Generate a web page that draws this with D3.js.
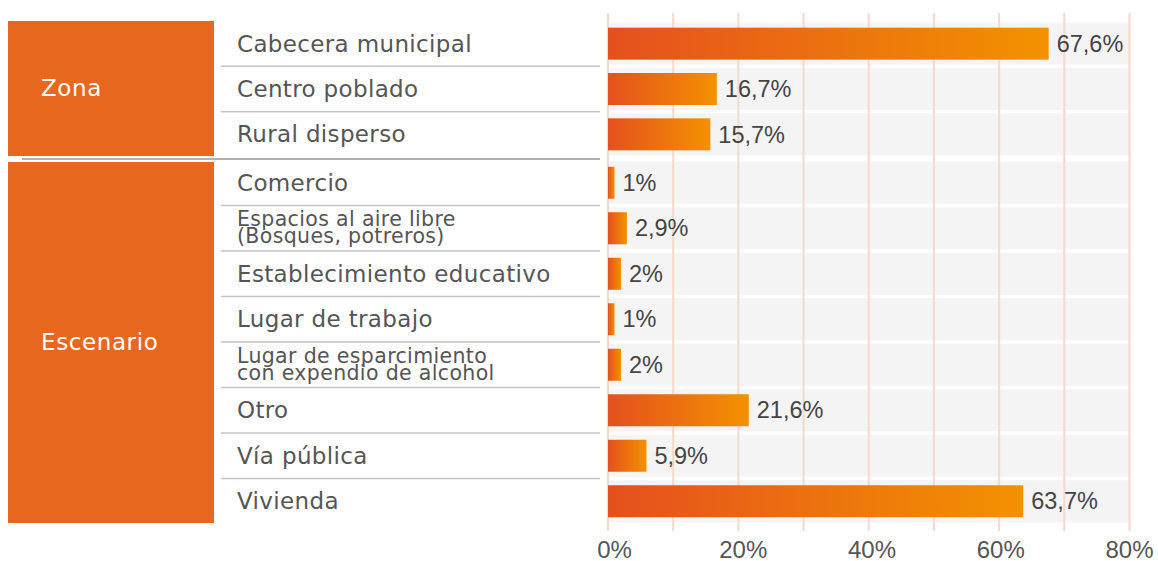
<!DOCTYPE html>
<html>
<head>
<meta charset="utf-8">
<script src="https://cdn.jsdelivr.net/npm/d3@7"></script>
<style>
  html, body { margin: 0; padding: 0; background: #fff; }
  svg { display: block; font-family: "Liberation Sans", Arial, sans-serif; }
  .cat { font-family: "DejaVu Sans", "Liberation Sans", sans-serif; }
</style>
</head>
<body>
<svg id="chart" width="1158" height="561"></svg>
<script>
// ---- data ----
const groupNames = ["Zona", "Escenario"];
const zonaCategories = ["Cabecera municipal", "Centro poblado", "Rural disperso"];
const zonaValues = [67.6, 16.7, 15.7];
const escenarioCategories = [
  "Comercio",
  "Espacios al aire libre\n(Bosques, potreros)",
  "Establecimiento educativo",
  "Lugar de trabajo",
  "Lugar de esparcimiento\ncon expendio de alcohol",
  "Otro",
  "Vía pública",
  "Vivienda"
];
const escenarioValues = [1, 2.9, 2, 1, 2, 21.6, 5.9, 63.7];
const tickValues = [0, 20, 40, 60, 80];
const gridValues = [0, 10, 20, 30, 40, 50, 60, 70, 80];

// ---- layout ----
const svg = d3.select("#chart");
const x = d3.scaleLinear().domain([0, 80]).range([608, 1129.5]);
const xLabel = d3.scaleLinear().domain([0, 80]).range([614, 1129]);
const groups = [
  { name: groupNames[0], cats: zonaCategories, vals: zonaValues, y: d3.scaleBand().domain(zonaCategories).range([21, 157]) },
  { name: groupNames[1], cats: escenarioCategories, vals: escenarioValues, y: d3.scaleBand().domain(escenarioCategories).range([160, 524]) }
];
const boxes = [[21, 156], [162, 523]];

const defs = svg.append("defs");
const grad = defs.append("linearGradient").attr("id", "barGrad")
  .attr("x1", "0%").attr("x2", "100%").attr("y1", "0%").attr("y2", "0%");
grad.append("stop").attr("offset", "0%").attr("stop-color", "#e5501e");
grad.append("stop").attr("offset", "100%").attr("stop-color", "#f39200");

const fmt = v => String(v).replace(".", ",") + "%";

// background bands
groups.forEach(g => {
  svg.append("g").selectAll("rect").data(g.cats).join("rect")
    .attr("x", x(0)).attr("width", x(80) - x(0))
    .attr("y", d => g.y(d) + g.y.bandwidth() / 2 - 21)
    .attr("height", 42)
    .attr("fill", "#f4f4f4");
});

// gridlines
svg.append("g").selectAll("line").data(gridValues).join("line")
  .attr("x1", d => x(d)).attr("x2", d => x(d))
  .attr("y1", 13).attr("y2", 531)
  .attr("stroke", "#f6d8cc").attr("stroke-width", 2);

// group boxes, labels, separators
groups.forEach((g, gi) => {
  const [top, bottom] = boxes[gi];
  svg.append("rect").attr("x", 8).attr("y", top).attr("width", 206).attr("height", bottom - top)
    .attr("fill", "#e8671e");
  svg.append("text").attr("class", "cat").attr("x", 41).attr("y", (top + bottom) / 2 - 1).attr("dy", "0.35em")
    .attr("fill", "#fff").attr("font-size", 23).attr("letter-spacing", "0.6px").text(g.name);

  // row separators
  svg.append("g").selectAll("line").data(g.cats.slice(1)).join("line")
    .attr("x1", 221).attr("x2", 600)
    .attr("y1", d => g.y(d)).attr("y2", d => g.y(d))
    .attr("stroke", "#c4c4c4").attr("stroke-width", 1.5);

  // category labels
  const lbl = svg.append("g").selectAll("text").data(g.cats).join("text")
    .attr("class", "cat")
    .attr("fill", "#555")
    .attr("x", 237)
    .attr("y", d => g.y(d) + g.y.bandwidth() / 2);
  lbl.each(function(d) {
    const lines = d.split("\n");
    const t = d3.select(this);
    if (lines.length === 1) {
      t.attr("font-size", 23).attr("letter-spacing", "0.35px").attr("dy", "0.35em").text(d);
    } else {
      t.attr("font-size", 20.5).attr("letter-spacing", "0.35px");
      lines.forEach((ln, i) => {
        t.append("tspan").attr("x", 237).attr("dy", i === 0 ? "-2px" : "17px").text(ln);
      });
    }
  });

  // bars
  svg.append("g").selectAll("rect").data(g.cats).join("rect")
    .attr("x", x(0))
    .attr("y", d => g.y(d) + g.y.bandwidth() / 2 - 16)
    .attr("height", 32)
    .attr("width", (d, i) => x(g.vals[i]) - x(0))
    .attr("fill", "url(#barGrad)");

  // value labels
  svg.append("g").selectAll("text").data(g.cats).join("text")
    .attr("x", (d, i) => x(g.vals[i]) + 8)
    .attr("y", d => g.y(d) + g.y.bandwidth() / 2)
    .attr("dy", "0.35em")
    .attr("font-size", 23.5).attr("fill", "#444")
    .text((d, i) => fmt(g.vals[i]));
});

// group separator
svg.append("line").attr("x1", 22).attr("x2", 600).attr("y1", 159).attr("y2", 159)
  .attr("stroke", "#b0b0b0").attr("stroke-width", 2);

// x axis
const axis = svg.append("g").attr("transform", "translate(0,539)")
  .call(d3.axisBottom(xLabel).tickValues(tickValues).tickSize(0).tickFormat(d => d + "%"));
axis.select(".domain").remove();
axis.selectAll("text").attr("font-size", 24).attr("fill", "#555")
  .attr("font-family", "'Liberation Sans', Arial, sans-serif").attr("dy", "0.35em").attr("y", 10.5);
</script>
</body>
</html>
